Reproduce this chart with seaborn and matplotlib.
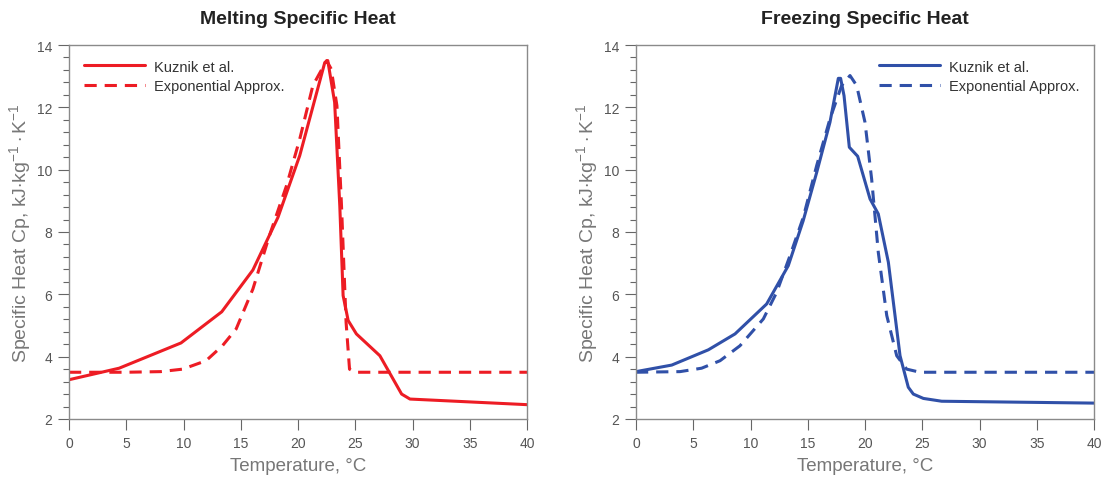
import numpy as np
import pandas as pd
import matplotlib
matplotlib.use("Agg")
import matplotlib.pyplot as plt
import seaborn as sns

# ---- data ----
melt_kuznik_T = [0, 4.38, 9.78, 13.34, 16.06, 18.25, 20.15, 22.34, 22.6, 23.2, 23.65, 23.94, 24.38, 25.1, 27.15, 29.05, 29.78, 40]
melt_kuznik_cp = [3.26, 3.63, 4.44, 5.44, 6.78, 8.47, 10.45, 13.44, 13.5, 12.16, 8.84, 5.96, 5.16, 4.73, 4.03, 2.80, 2.64, 2.46]

melt_exp_T = [0, 5, 8, 9.93, 11.97, 13.4, 14.6, 16.06, 17.5, 19.0, 20.15, 21.3, 22.5, 22.9, 23.4, 23.8, 24.2, 24.5, 24.96, 40]
melt_exp_cp = [3.5, 3.5, 3.52, 3.6, 3.87, 4.35, 4.89, 6.17, 7.88, 9.49, 10.98, 12.7, 13.5, 13.23, 12.05, 8.84, 5.1, 3.6, 3.5, 3.5]

freeze_kuznik_T = [0, 3.12, 6.32, 8.65, 11.41, 13.3, 14.6, 15.78, 16.94, 17.67, 17.87, 18.17, 18.63, 19.36, 20.44, 21.16, 22.04, 23.06, 23.78, 24.22, 25.1, 26.7, 40]
freeze_kuznik_cp = [3.52, 3.73, 4.22, 4.73, 5.69, 6.92, 8.36, 9.91, 11.52, 12.93, 12.93, 12.37, 10.72, 10.43, 9.06, 8.58, 7.03, 4.03, 3.02, 2.80, 2.66, 2.57, 2.51]

freeze_exp_T = [0, 3.84, 5.73, 7.34, 9.08, 11.12, 12.28, 13.45, 14.61, 15.78, 16.94, 17.96, 18.69, 19.27, 20.0, 20.58, 21.16, 21.9, 22.77, 23.64, 24.8, 40]
freeze_exp_cp = [3.5, 3.52, 3.63, 3.87, 4.35, 5.21, 6.06, 7.24, 8.47, 10.13, 11.63, 12.70, 13.02, 12.70, 11.52, 9.7, 7.35, 5.32, 4.03, 3.6, 3.5, 3.5]

series_labels = ["Kuznik et al.", "Exponential Approx."]
titles = ["Melting Specific Heat", "Freezing Specific Heat"]
xlabel = "Temperature, °C"
ylabel = r"Specific Heat Cp, kJ$\cdot$kg$^{-1}\cdot$K$^{-1}$"
x_ticks = [0, 5, 10, 15, 20, 25, 30, 35, 40]
y_ticks = [2, 4, 6, 8, 10, 12, 14]

RED = "#ED1C24"
BLUE = "#3050A8"

sns.set_theme(style="ticks")
plt.rcParams["font.family"] = ["Liberation Sans", "DejaVu Sans"]
plt.rcParams["mathtext.fontset"] = "custom"
plt.rcParams["mathtext.rm"] = "Liberation Sans"
plt.rcParams["mathtext.it"] = "Liberation Sans:italic"

fig = plt.figure(figsize=(11.04, 4.85), dpi=100)
axL = fig.add_axes([69 / 1104, 65 / 485, 458 / 1104, 374 / 485])
axR = fig.add_axes([636 / 1104, 65 / 485, 458 / 1104, 374 / 485])

def draw(ax, kT, kC, eT, eC, color, title, legloc):
    dk = pd.DataFrame({"T": kT, "Cp": kC})
    de = pd.DataFrame({"T": eT, "Cp": eC})
    sns.lineplot(data=dk, x="T", y="Cp", ax=ax, color=color, lw=2.2,
                 sort=False, estimator=None, label=series_labels[0])
    sns.lineplot(data=de, x="T", y="Cp", ax=ax, color=color, lw=2.2,
                 sort=False, estimator=None, label=series_labels[1],
                 linestyle=(0, (4, 2.6)))
    ax.set_xlim(0, 40)
    ax.set_ylim(2, 14)
    ax.set_xticks(x_ticks)
    ax.set_yticks(y_ticks)
    ax.set_yticks(np.arange(2, 14.01, 0.4), minor=True)
    for s in ax.spines.values():
        s.set_color("#8a8a8a")
        s.set_linewidth(1.0)
    ax.tick_params(axis="both", which="major", direction="out", length=8,
                   width=0.8, color="#666666", labelcolor="#555555",
                   labelsize=10, pad=4)
    ax.tick_params(axis="y", which="minor", direction="out", length=4,
                   width=0.8, color="#666666")
    ax.set_xlabel(xlabel, fontsize=13.5, color="#777777", labelpad=5)
    ax.set_ylabel(ylabel, fontsize=14, color="#777777", labelpad=3)
    ax.set_title(title, fontsize=14, fontweight="bold", color="#222222", pad=16)
    leg = ax.legend(loc=legloc, frameon=False, fontsize=10.5, handlelength=4.2,
                    handletextpad=0.6, labelspacing=0.35, borderaxespad=0.6)
    for t in leg.get_texts():
        t.set_color("#333333")

draw(axL, melt_kuznik_T, melt_kuznik_cp, melt_exp_T, melt_exp_cp, RED, titles[0], "upper left")
draw(axR, freeze_kuznik_T, freeze_kuznik_cp, freeze_exp_T, freeze_exp_cp, BLUE, titles[1], "upper right")

fig.savefig("out.png", dpi=100)
